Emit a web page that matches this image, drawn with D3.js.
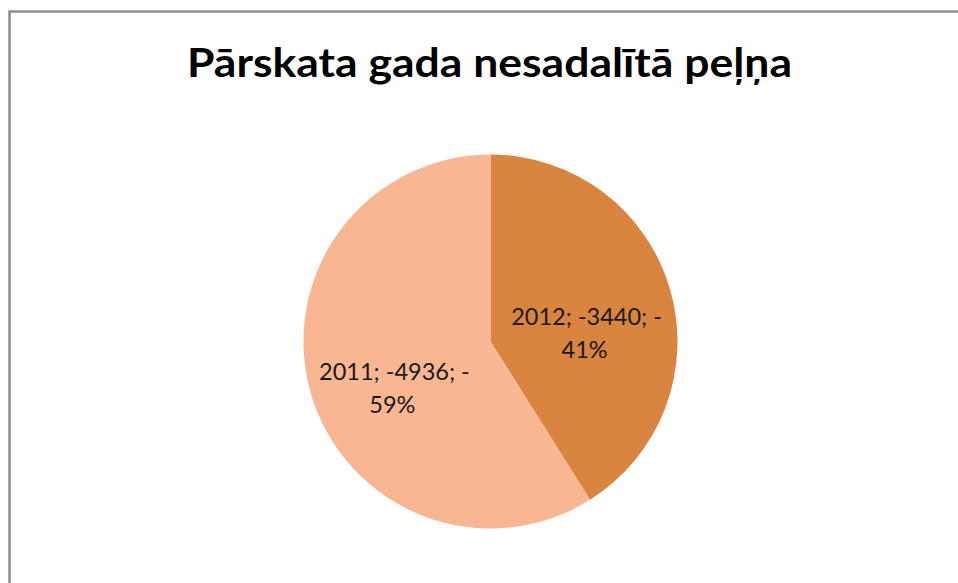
<!DOCTYPE html>
<html>
<head>
<meta charset="utf-8">
<script src="https://cdn.jsdelivr.net/npm/d3@7"></script>
<style>
  html, body { margin: 0; padding: 0; background: #fff; }
  svg { display: block; }
</style>
</head>
<body>
<div id="chart"></div>
<script>
// chart data
var years = ["2012", "2011"];
var values = [-3440, -4936];
var percents = ["41%", "59%"];
var colors = ["#D9843F", "#F9B692"];
var title = "Pārskata gada nesadalītā peļņa";

var width = 958, height = 583;

var svg = d3.select("#chart").append("svg")
            .attr("width", width)
            .attr("height", height);

// outer frame (runs off the right and bottom edges like the original)
svg.append("rect")
   .attr("x", 9.5)
   .attr("y", 11.5)
   .attr("width", 1000)
   .attr("height", 700)
   .attr("fill", "#fff")
   .attr("stroke", "#8c8c8c")
   .attr("stroke-width", 2.5);

// title
svg.append("text")
   .attr("x", 489.5)
   .attr("y", 77)
   .attr("text-anchor", "middle")
   .attr("font-family", "Lato, 'Open Sans', sans-serif")
   .attr("font-weight", "bold")
   .attr("font-size", 40)
   .attr("textLength", 605)
   .attr("lengthAdjust", "spacingAndGlyphs")
   .attr("fill", "#000")
   .text(title);

var cx = 490.5, cy = 341.5, radius = 187;

var data = years.map((y, i) => ({ year: y, value: Math.abs(values[i]), raw: values[i], pct: percents[i], color: colors[i] }));

var pie = d3.pie()
            .sort(null)
            .value(d => d.value);

var arc = d3.arc()
            .innerRadius(0)
            .outerRadius(radius);

var labelArc = d3.arc()
                 .innerRadius(100)
                 .outerRadius(100);

var g = svg.append("g")
           .attr("transform", "translate(" + cx + "," + cy + ")");

var arcs = pie(data);

g.selectAll(".slice")
 .data(arcs)
 .enter().append("path")
 .attr("class", "slice")
 .attr("d", arc)
 .attr("fill", d => d.data.color);

// data labels: "year; value; -" then the percentage
var labels = g.selectAll(".label")
              .data(arcs)
              .enter().append("text")
              .attr("class", "label")
              .attr("transform", d => {
                  var c = labelArc.centroid(d);
                  return "translate(" + c[0] + "," + (c[1] + 20) + ")";
              })
              .attr("text-anchor", "middle")
              .attr("font-family", "Lato, 'Open Sans', sans-serif")
              .attr("font-size", 23.5)
              .attr("fill", "#1a1a1a");

labels.append("tspan")
      .attr("x", 0)
      .attr("y", -9)
      .text(d => d.data.year + "; " + d.data.raw + "; -");

labels.append("tspan")
      .attr("x", -2)
      .attr("y", 24)
      .text(d => d.data.pct);
</script>
</body>
</html>
